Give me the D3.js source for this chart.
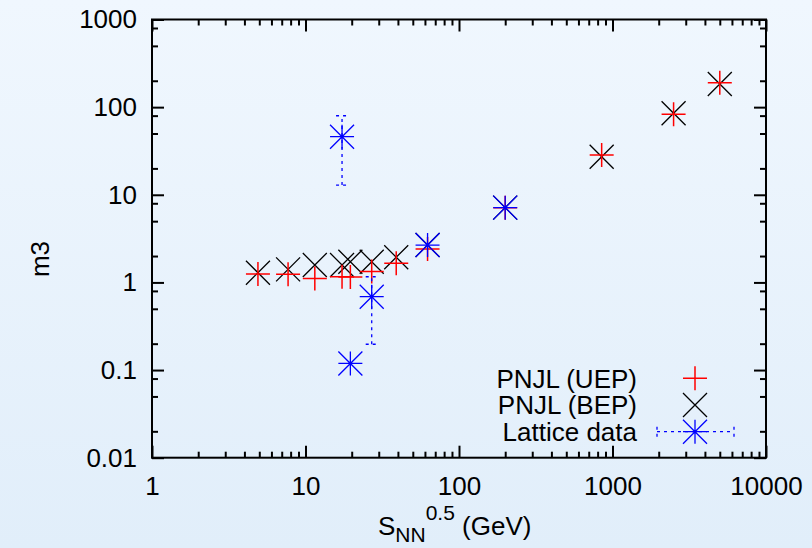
<!DOCTYPE html>
<html>
<head>
<meta charset="utf-8">
<script src="https://cdn.jsdelivr.net/npm/d3@7"></script>
<style>
html, body { margin: 0; padding: 0; }
body { width: 812px; height: 548px; overflow: hidden; }
svg text { font-family: "Liberation Sans", Arial, Helvetica, sans-serif; }
</style>
</head>
<body>
<div id="chart"></div>
<script>
// collision energies sqrt(s_NN) in GeV
var energies = [4.9, 7.7, 11.5, 17.3, 19.6, 27, 39, 62.4, 200, 850, 2500, 5000];
// PNJL values for the two freeze-out parametrisations
var m3UEP = [1.25, 1.24, 1.11, 1.16, 1.15, 1.33, 1.65, 2.41, 7.13, 28.4, 82.8, 190];
var m3BEP = [1.29, 1.41, 1.58, 1.58, 1.72, 1.72, 1.94, 2.67, 7.13, 27.2, 85, 184];
// lattice points with error bars
var latticeEnergies = [17.3, 19.6, 27, 62.4, 200];
var latticeM3 = [46, 0.119, 0.687, 2.67, 7.13];
var latticeLow = [12.9, 0.119, 0.197, 2.67, 7.13];
var latticeHigh = [79.8, 0.119, 1.16, 2.67, 7.13];

var xTicks = [1, 10, 100, 1000, 10000];
var yTicks = [0.01, 0.1, 1, 10, 100, 1000];
var legendLabels = ["PNJL (UEP)", "PNJL (BEP)", "Lattice data"];

var W = 812, H = 548;
var padL = 152, padT = 19.5;
var w = 766 - padL, h = 457.7 - padT;
var FS = "26px";

// minor tick positions
var xMinor = [];
xTicks.slice(0, -1).forEach(function(d){ for (var m = 2; m <= 9; m++) xMinor.push(d * m); });
var yMinor = [];
yTicks.slice(0, -1).forEach(function(d){ [2, 5, 8].forEach(function(m){ yMinor.push(d * m); }); });

var svg = d3.select("#chart").append("svg")
    .attr("width", W)
    .attr("height", H);

var grad = svg.append("defs").append("linearGradient")
    .attr("id", "bg").attr("x1", 0).attr("y1", 0).attr("x2", 0).attr("y2", 1);
grad.append("stop").attr("offset", "0%").attr("stop-color", "#f0f7fe");
grad.append("stop").attr("offset", "100%").attr("stop-color", "#e1eefa");
svg.append("rect").attr("width", W).attr("height", H).attr("fill", "url(#bg)");

var x = d3.scaleLog().domain([1, 10000]).range([0, w]);
var y = d3.scaleLog().domain([0.01, 1000]).range([h, 0]);

var g = svg.append("g").attr("transform", "translate(" + padL + "," + padT + ")");

function styleAxis(sel) {
    sel.select(".domain").remove();
    sel.selectAll("line").attr("stroke", "#000").attr("stroke-width", 2);
    sel.selectAll("text").attr("fill", "#000").style("font-size", FS);
}
var fmt = function(d){ return String(d); };

// bottom / top
g.append("g").attr("transform", "translate(0," + h + ")")
    .call(d3.axisBottom(x).tickValues(xTicks).tickFormat(fmt).tickSize(-12).tickPadding(19))
    .call(styleAxis);
g.append("g").attr("transform", "translate(0," + h + ")")
    .call(d3.axisBottom(x).tickValues(xMinor).tickFormat("").tickSize(-6))
    .call(styleAxis);
g.append("g")
    .call(d3.axisTop(x).tickValues(xTicks).tickFormat("").tickSize(-12))
    .call(styleAxis);
g.append("g")
    .call(d3.axisTop(x).tickValues(xMinor).tickFormat("").tickSize(-6))
    .call(styleAxis);

// left / right
g.append("g")
    .call(d3.axisLeft(y).tickValues(yTicks).tickFormat(fmt).tickSize(-12).tickPadding(15))
    .call(styleAxis);
g.append("g")
    .call(d3.axisLeft(y).tickValues(yMinor).tickFormat("").tickSize(-6))
    .call(styleAxis);
g.append("g").attr("transform", "translate(" + w + ",0)")
    .call(d3.axisRight(y).tickValues(yTicks).tickFormat("").tickSize(-12))
    .call(styleAxis);
g.append("g").attr("transform", "translate(" + w + ",0)")
    .call(d3.axisRight(y).tickValues(yMinor).tickFormat("").tickSize(-6))
    .call(styleAxis);

g.append("rect")
    .attr("width", w).attr("height", h)
    .attr("fill", "none").attr("stroke", "#000").attr("stroke-width", 2);

// marker shapes
var S = 12;
var plusPath = "M" + (-S) + ",0H" + S + "M0," + (-S) + "V" + S;
var crossPath = "M" + (-S) + "," + (-S) + "L" + S + "," + S + "M" + (-S) + "," + S + "L" + S + "," + (-S);

var bep = energies.map(function(e, i){ return {x: e, y: m3BEP[i]}; });
var uep = energies.map(function(e, i){ return {x: e, y: m3UEP[i]}; });
var lat = latticeEnergies.map(function(e, i){ return {x: e, y: latticeM3[i], lo: latticeLow[i], hi: latticeHigh[i]}; });

g.selectAll(".bep").data(bep).enter().append("path")
    .attr("class", "bep")
    .attr("transform", function(d){ return "translate(" + x(d.x) + "," + y(d.y) + ")"; })
    .attr("d", crossPath)
    .attr("stroke", "#000").attr("stroke-width", 1.3).attr("fill", "none");

g.selectAll(".uep").data(uep).enter().append("path")
    .attr("class", "uep")
    .attr("transform", function(d){ return "translate(" + x(d.x) + "," + y(d.y) + ")"; })
    .attr("d", plusPath)
    .attr("stroke", "#ff0000").attr("stroke-width", 1.5).attr("fill", "none");

// lattice error bars (dashed)
var errs = g.selectAll(".err").data(lat.filter(function(d){ return d.hi > d.lo; }))
    .enter().append("g").attr("class", "err")
    .attr("stroke", "#0000ff").attr("stroke-width", 1.3).attr("stroke-dasharray", "3,4").attr("fill", "none");
errs.append("line")
    .attr("x1", function(d){ return x(d.x); }).attr("x2", function(d){ return x(d.x); })
    .attr("y1", function(d){ return y(d.lo); }).attr("y2", function(d){ return y(d.hi); });
errs.append("line")
    .attr("x1", function(d){ return x(d.x) - 6; }).attr("x2", function(d){ return x(d.x) + 6; })
    .attr("y1", function(d){ return y(d.lo); }).attr("y2", function(d){ return y(d.lo); });
errs.append("line")
    .attr("x1", function(d){ return x(d.x) - 6; }).attr("x2", function(d){ return x(d.x) + 6; })
    .attr("y1", function(d){ return y(d.hi); }).attr("y2", function(d){ return y(d.hi); });

g.selectAll(".lat").data(lat).enter().append("path")
    .attr("class", "lat")
    .attr("transform", function(d){ return "translate(" + x(d.x) + "," + y(d.y) + ")"; })
    .attr("d", plusPath + crossPath)
    .attr("stroke", "#0000ff").attr("stroke-width", 1.3).attr("fill", "none");

// legend
var legendY = [378.3, 405, 431.7];
var legendX = 695;
var leg = svg.append("g");
leg.selectAll("text").data(legendLabels).enter().append("text")
    .attr("x", 637)
    .attr("y", function(d, i){ return legendY[i]; })
    .attr("dy", "0.36em")
    .attr("text-anchor", "end")
    .style("font-size", FS)
    .text(function(d){ return d; });
leg.append("path").attr("transform", "translate(" + legendX + "," + legendY[0] + ")")
    .attr("d", plusPath).attr("stroke", "#ff0000").attr("stroke-width", 1.5);
leg.append("path").attr("transform", "translate(" + legendX + "," + legendY[1] + ")")
    .attr("d", crossPath).attr("stroke", "#000").attr("stroke-width", 1.3);
var le = leg.append("g").attr("stroke", "#0000ff").attr("stroke-width", 1.3).attr("stroke-dasharray", "3,4");
le.append("line").attr("x1", 657).attr("x2", 734).attr("y1", legendY[2]).attr("y2", legendY[2]);
le.append("line").attr("x1", 657).attr("x2", 657).attr("y1", legendY[2] - 5).attr("y2", legendY[2] + 5);
le.append("line").attr("x1", 734).attr("x2", 734).attr("y1", legendY[2] - 5).attr("y2", legendY[2] + 5);
leg.append("path").attr("transform", "translate(" + legendX + "," + legendY[2] + ")")
    .attr("d", plusPath + crossPath).attr("stroke", "#0000ff").attr("stroke-width", 1.3);

// axis titles
svg.append("text")
    .attr("transform", "translate(49,259) rotate(-90)")
    .attr("text-anchor", "middle")
    .style("font-size", FS)
    .text("m3");

var xt = svg.append("text")
    .attr("x", 378).attr("y", 535)
    .style("font-size", FS);
xt.append("tspan").text("S");
xt.append("tspan").attr("dy", 7).style("font-size", "21px").text("NN");
xt.append("tspan").attr("dy", -22).style("font-size", "21px").text("0.5");
xt.append("tspan").attr("dy", 15).text(" (GeV)");
</script>
</body>
</html>
